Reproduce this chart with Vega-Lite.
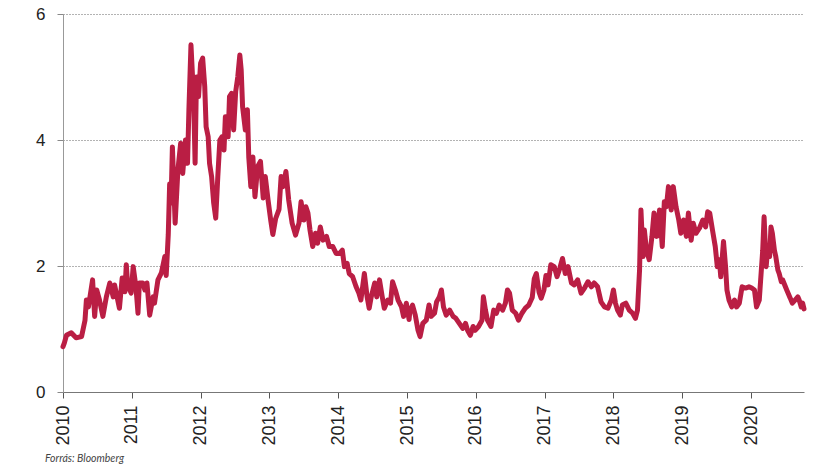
{
  "$schema": "https://vega.github.io/schema/vega-lite/v6.json",
  "autosize": {"type": "none"},
  "padding": {"left": 63, "top": 14, "right": 11, "bottom": 77},
  "width": 741,
  "height": 378,
  "background": "white",
  "title": {
    "text": "Forrás: Bloomberg",
    "orient": "bottom",
    "anchor": "start",
    "frame": "group",
    "dx": -18,
    "offset": 9,
    "font": "Lato",
    "fontStyle": "italic",
    "fontWeight": "normal",
    "fontSize": 10.5,
    "color": "#444444"
  },
  "config": {
    "view": {"stroke": null},
    "axis": {"labelFont": "Liberation Sans", "labelColor": "#222222"}
  },
  "data": {
    "values": [
      {"year": 2010.00, "value": 0.72},
      {"year": 2010.02, "value": 0.78},
      {"year": 2010.05, "value": 0.90},
      {"year": 2010.12, "value": 0.94},
      {"year": 2010.19, "value": 0.86},
      {"year": 2010.27, "value": 0.88},
      {"year": 2010.32, "value": 1.14},
      {"year": 2010.34, "value": 1.46},
      {"year": 2010.37, "value": 1.35},
      {"year": 2010.43, "value": 1.78},
      {"year": 2010.46, "value": 1.20},
      {"year": 2010.49, "value": 1.62},
      {"year": 2010.53, "value": 1.46},
      {"year": 2010.58, "value": 1.20},
      {"year": 2010.63, "value": 1.51},
      {"year": 2010.68, "value": 1.73},
      {"year": 2010.73, "value": 1.51},
      {"year": 2010.75, "value": 1.70},
      {"year": 2010.82, "value": 1.33},
      {"year": 2010.86, "value": 1.81},
      {"year": 2010.90, "value": 1.59},
      {"year": 2010.92, "value": 2.02},
      {"year": 2010.94, "value": 1.70},
      {"year": 2010.99, "value": 1.57},
      {"year": 2011.02, "value": 1.99},
      {"year": 2011.06, "value": 1.67},
      {"year": 2011.09, "value": 1.25},
      {"year": 2011.11, "value": 1.73},
      {"year": 2011.16, "value": 1.73},
      {"year": 2011.19, "value": 1.62},
      {"year": 2011.22, "value": 1.73},
      {"year": 2011.26, "value": 1.22},
      {"year": 2011.31, "value": 1.51},
      {"year": 2011.33, "value": 1.41},
      {"year": 2011.38, "value": 1.78},
      {"year": 2011.43, "value": 1.89},
      {"year": 2011.48, "value": 2.15},
      {"year": 2011.50, "value": 1.85},
      {"year": 2011.53, "value": 2.50},
      {"year": 2011.55, "value": 3.30},
      {"year": 2011.57, "value": 3.00},
      {"year": 2011.59, "value": 3.89},
      {"year": 2011.63, "value": 2.68},
      {"year": 2011.67, "value": 3.52},
      {"year": 2011.71, "value": 3.95},
      {"year": 2011.74, "value": 3.47},
      {"year": 2011.78, "value": 4.00},
      {"year": 2011.81, "value": 3.63},
      {"year": 2011.83, "value": 4.48},
      {"year": 2011.86, "value": 5.51},
      {"year": 2011.88, "value": 5.06},
      {"year": 2011.90, "value": 4.59},
      {"year": 2011.92, "value": 3.63},
      {"year": 2011.94, "value": 5.00},
      {"year": 2011.97, "value": 4.69},
      {"year": 2012.00, "value": 5.22},
      {"year": 2012.03, "value": 5.30},
      {"year": 2012.06, "value": 4.85},
      {"year": 2012.08, "value": 4.21},
      {"year": 2012.11, "value": 4.05},
      {"year": 2012.13, "value": 3.63},
      {"year": 2012.16, "value": 3.42},
      {"year": 2012.19, "value": 3.00},
      {"year": 2012.22, "value": 2.76},
      {"year": 2012.25, "value": 3.42},
      {"year": 2012.28, "value": 4.00},
      {"year": 2012.31, "value": 4.05},
      {"year": 2012.34, "value": 3.84},
      {"year": 2012.36, "value": 4.37},
      {"year": 2012.40, "value": 4.05},
      {"year": 2012.42, "value": 4.69},
      {"year": 2012.45, "value": 4.74},
      {"year": 2012.48, "value": 4.16},
      {"year": 2012.51, "value": 4.77},
      {"year": 2012.54, "value": 5.00},
      {"year": 2012.57, "value": 5.35},
      {"year": 2012.59, "value": 5.11},
      {"year": 2012.61, "value": 4.53},
      {"year": 2012.65, "value": 4.16},
      {"year": 2012.68, "value": 4.48},
      {"year": 2012.70, "value": 3.73},
      {"year": 2012.73, "value": 3.26},
      {"year": 2012.76, "value": 3.73},
      {"year": 2012.79, "value": 3.10},
      {"year": 2012.83, "value": 3.58},
      {"year": 2012.87, "value": 3.66},
      {"year": 2012.91, "value": 3.08},
      {"year": 2012.94, "value": 3.42},
      {"year": 2012.98, "value": 3.05},
      {"year": 2013.02, "value": 2.72},
      {"year": 2013.05, "value": 2.50},
      {"year": 2013.09, "value": 2.75},
      {"year": 2013.14, "value": 2.90},
      {"year": 2013.17, "value": 3.42},
      {"year": 2013.20, "value": 3.26},
      {"year": 2013.24, "value": 3.50},
      {"year": 2013.28, "value": 3.05},
      {"year": 2013.33, "value": 2.68},
      {"year": 2013.38, "value": 2.49},
      {"year": 2013.43, "value": 2.68},
      {"year": 2013.46, "value": 3.02},
      {"year": 2013.50, "value": 2.73},
      {"year": 2013.53, "value": 2.94},
      {"year": 2013.56, "value": 2.84},
      {"year": 2013.59, "value": 2.57},
      {"year": 2013.63, "value": 2.31},
      {"year": 2013.67, "value": 2.52},
      {"year": 2013.70, "value": 2.36},
      {"year": 2013.74, "value": 2.62},
      {"year": 2013.78, "value": 2.41},
      {"year": 2013.83, "value": 2.47},
      {"year": 2013.87, "value": 2.31},
      {"year": 2013.92, "value": 2.31},
      {"year": 2013.97, "value": 2.20},
      {"year": 2014.02, "value": 2.20},
      {"year": 2014.06, "value": 2.25},
      {"year": 2014.09, "value": 1.99},
      {"year": 2014.13, "value": 2.04},
      {"year": 2014.16, "value": 1.88},
      {"year": 2014.21, "value": 1.83},
      {"year": 2014.26, "value": 1.67},
      {"year": 2014.30, "value": 1.57},
      {"year": 2014.33, "value": 1.46},
      {"year": 2014.38, "value": 1.88},
      {"year": 2014.42, "value": 1.51},
      {"year": 2014.45, "value": 1.33},
      {"year": 2014.48, "value": 1.51},
      {"year": 2014.53, "value": 1.73},
      {"year": 2014.56, "value": 1.51},
      {"year": 2014.60, "value": 1.78},
      {"year": 2014.64, "value": 1.51},
      {"year": 2014.67, "value": 1.33},
      {"year": 2014.72, "value": 1.46},
      {"year": 2014.76, "value": 1.41},
      {"year": 2014.79, "value": 1.75},
      {"year": 2014.83, "value": 1.62},
      {"year": 2014.87, "value": 1.46},
      {"year": 2014.92, "value": 1.35},
      {"year": 2014.95, "value": 1.20},
      {"year": 2014.99, "value": 1.41},
      {"year": 2015.03, "value": 1.15},
      {"year": 2015.04, "value": 1.27},
      {"year": 2015.08, "value": 1.38},
      {"year": 2015.12, "value": 1.22},
      {"year": 2015.16, "value": 0.98},
      {"year": 2015.19, "value": 0.88},
      {"year": 2015.23, "value": 1.09},
      {"year": 2015.28, "value": 1.14},
      {"year": 2015.32, "value": 1.38},
      {"year": 2015.35, "value": 1.20},
      {"year": 2015.40, "value": 1.25},
      {"year": 2015.43, "value": 1.43},
      {"year": 2015.47, "value": 1.51},
      {"year": 2015.50, "value": 1.62},
      {"year": 2015.53, "value": 1.35},
      {"year": 2015.57, "value": 1.22},
      {"year": 2015.62, "value": 1.30},
      {"year": 2015.67, "value": 1.20},
      {"year": 2015.71, "value": 1.17},
      {"year": 2015.76, "value": 1.09},
      {"year": 2015.81, "value": 1.01},
      {"year": 2015.85, "value": 1.09},
      {"year": 2015.88, "value": 0.98},
      {"year": 2015.92, "value": 0.90},
      {"year": 2015.96, "value": 1.04},
      {"year": 2015.99, "value": 0.98},
      {"year": 2016.04, "value": 1.04},
      {"year": 2016.09, "value": 1.14},
      {"year": 2016.11, "value": 1.51},
      {"year": 2016.14, "value": 1.30},
      {"year": 2016.17, "value": 1.14},
      {"year": 2016.22, "value": 1.04},
      {"year": 2016.26, "value": 1.30},
      {"year": 2016.30, "value": 1.25},
      {"year": 2016.34, "value": 1.38},
      {"year": 2016.39, "value": 1.30},
      {"year": 2016.43, "value": 1.41},
      {"year": 2016.46, "value": 1.62},
      {"year": 2016.49, "value": 1.57},
      {"year": 2016.53, "value": 1.30},
      {"year": 2016.58, "value": 1.25},
      {"year": 2016.62, "value": 1.14},
      {"year": 2016.67, "value": 1.25},
      {"year": 2016.72, "value": 1.33},
      {"year": 2016.77, "value": 1.38},
      {"year": 2016.82, "value": 1.50},
      {"year": 2016.85, "value": 1.80},
      {"year": 2016.88, "value": 1.88},
      {"year": 2016.92, "value": 1.58},
      {"year": 2016.95, "value": 1.49},
      {"year": 2016.99, "value": 1.62},
      {"year": 2017.02, "value": 1.85},
      {"year": 2017.05, "value": 1.70},
      {"year": 2017.09, "value": 2.02},
      {"year": 2017.14, "value": 1.99},
      {"year": 2017.18, "value": 1.83},
      {"year": 2017.22, "value": 1.96},
      {"year": 2017.26, "value": 2.12},
      {"year": 2017.30, "value": 1.88},
      {"year": 2017.34, "value": 1.99},
      {"year": 2017.39, "value": 1.73},
      {"year": 2017.43, "value": 1.70},
      {"year": 2017.48, "value": 1.78},
      {"year": 2017.53, "value": 1.57},
      {"year": 2017.58, "value": 1.65},
      {"year": 2017.63, "value": 1.75},
      {"year": 2017.68, "value": 1.67},
      {"year": 2017.72, "value": 1.73},
      {"year": 2017.77, "value": 1.67},
      {"year": 2017.82, "value": 1.43},
      {"year": 2017.87, "value": 1.35},
      {"year": 2017.92, "value": 1.33},
      {"year": 2017.97, "value": 1.46},
      {"year": 2018.00, "value": 1.62},
      {"year": 2018.03, "value": 1.41},
      {"year": 2018.06, "value": 1.30},
      {"year": 2018.10, "value": 1.22},
      {"year": 2018.13, "value": 1.38},
      {"year": 2018.18, "value": 1.41},
      {"year": 2018.23, "value": 1.30},
      {"year": 2018.28, "value": 1.25},
      {"year": 2018.32, "value": 1.17},
      {"year": 2018.35, "value": 1.30},
      {"year": 2018.38, "value": 1.94},
      {"year": 2018.40, "value": 2.89},
      {"year": 2018.43, "value": 2.15},
      {"year": 2018.45, "value": 2.57},
      {"year": 2018.48, "value": 2.25},
      {"year": 2018.52, "value": 2.10},
      {"year": 2018.56, "value": 2.47},
      {"year": 2018.59, "value": 2.84},
      {"year": 2018.63, "value": 2.47},
      {"year": 2018.67, "value": 2.89},
      {"year": 2018.71, "value": 2.31},
      {"year": 2018.74, "value": 3.02},
      {"year": 2018.77, "value": 2.94},
      {"year": 2018.80, "value": 3.26},
      {"year": 2018.84, "value": 2.89},
      {"year": 2018.87, "value": 3.26},
      {"year": 2018.91, "value": 2.94},
      {"year": 2018.95, "value": 2.73},
      {"year": 2018.98, "value": 2.52},
      {"year": 2019.02, "value": 2.73},
      {"year": 2019.06, "value": 2.47},
      {"year": 2019.09, "value": 2.84},
      {"year": 2019.13, "value": 2.41},
      {"year": 2019.16, "value": 2.68},
      {"year": 2019.20, "value": 2.52},
      {"year": 2019.25, "value": 2.60},
      {"year": 2019.30, "value": 2.73},
      {"year": 2019.34, "value": 2.62},
      {"year": 2019.37, "value": 2.86},
      {"year": 2019.40, "value": 2.84},
      {"year": 2019.44, "value": 2.57},
      {"year": 2019.48, "value": 2.31},
      {"year": 2019.51, "value": 1.99},
      {"year": 2019.54, "value": 2.10},
      {"year": 2019.56, "value": 1.83},
      {"year": 2019.60, "value": 2.39},
      {"year": 2019.63, "value": 1.99},
      {"year": 2019.65, "value": 1.62},
      {"year": 2019.68, "value": 1.46},
      {"year": 2019.72, "value": 1.35},
      {"year": 2019.76, "value": 1.46},
      {"year": 2019.79, "value": 1.35},
      {"year": 2019.83, "value": 1.41},
      {"year": 2019.87, "value": 1.67},
      {"year": 2019.92, "value": 1.65},
      {"year": 2019.97, "value": 1.67},
      {"year": 2020.01, "value": 1.65},
      {"year": 2020.05, "value": 1.62},
      {"year": 2020.08, "value": 1.35},
      {"year": 2020.12, "value": 1.46},
      {"year": 2020.14, "value": 1.78},
      {"year": 2020.17, "value": 2.25},
      {"year": 2020.19, "value": 2.78},
      {"year": 2020.22, "value": 1.99},
      {"year": 2020.24, "value": 2.25},
      {"year": 2020.27, "value": 2.15},
      {"year": 2020.29, "value": 2.62},
      {"year": 2020.31, "value": 2.52},
      {"year": 2020.34, "value": 2.25},
      {"year": 2020.36, "value": 2.15},
      {"year": 2020.39, "value": 1.94},
      {"year": 2020.41, "value": 1.88},
      {"year": 2020.44, "value": 1.75},
      {"year": 2020.46, "value": 1.78},
      {"year": 2020.50, "value": 1.67},
      {"year": 2020.53, "value": 1.59},
      {"year": 2020.57, "value": 1.49},
      {"year": 2020.60, "value": 1.41},
      {"year": 2020.64, "value": 1.46},
      {"year": 2020.68, "value": 1.51},
      {"year": 2020.70, "value": 1.46},
      {"year": 2020.73, "value": 1.35},
      {"year": 2020.75, "value": 1.41},
      {"year": 2020.77, "value": 1.32}
    ]
  },
  "mark": {
    "type": "line",
    "color": "#BA1E44",
    "strokeWidth": 5,
    "strokeJoin": "round",
    "strokeCap": "round",
    "clip": false
  },
  "encoding": {
    "x": {
      "field": "year",
      "type": "quantitative",
      "scale": {"domain": [2010, 2020.77], "nice": false, "zero": false},
      "axis": {
        "title": null,
        "values": [2010, 2011, 2012, 2013, 2014, 2015, 2016, 2017, 2018, 2019, 2020],
        "format": "d",
        "labelAngle": -90,
        "labelAlign": "right",
        "labelBaseline": "middle",
        "labelFontSize": 18,
        "labelPadding": 7,
        "tickSize": 6,
        "tickColor": "#555555",
        "domainColor": "#777777",
        "grid": false
      }
    },
    "y": {
      "field": "value",
      "type": "quantitative",
      "scale": {"domain": [0, 6], "nice": false},
      "axis": {
        "title": null,
        "values": [0, 2, 4, 6],
        "labelFontSize": 17,
        "labelPadding": 12,
        "tickSize": 6,
        "tickColor": "#888888",
        "domainColor": "#999999",
        "grid": true,
        "gridColor": "#666666",
        "gridDash": [1, 2],
        "gridWidth": 1
      }
    }
  }
}
